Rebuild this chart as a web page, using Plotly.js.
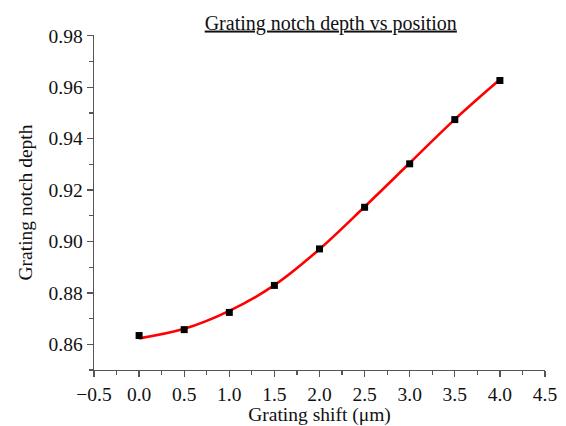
<!DOCTYPE html>
<html>
<head>
<meta charset="utf-8">
<script src="https://cdn.plot.ly/plotly-3.0.1.min.js"></script>
<style>html,body{margin:0;padding:0;background:#fff;}#chart{width:566px;height:426px;}</style>
</head>
<body>
<div id="chart"></div>
<script>
const shiftUm = [0.0, 0.5, 1.0, 1.5, 2.0, 2.5, 3.0, 3.5, 4.0];
const notchDepth = [0.8634, 0.8657, 0.8724, 0.8829, 0.8971, 0.9133, 0.9302, 0.9474, 0.9626];
const fitDepth = [0.8623, 0.8660, 0.8730, 0.8830, 0.8970, 0.9135, 0.9305, 0.9475, 0.9630];
const xTicks = [-0.5, 0.0, 0.5, 1.0, 1.5, 2.0, 2.5, 3.0, 3.5, 4.0, 4.5];
const yTicks = [0.86, 0.88, 0.90, 0.92, 0.94, 0.96, 0.98];

const font = {family: '"Liberation Serif", "Times New Roman", serif', color: '#111'};

const traces = [
  {x: shiftUm, y: fitDepth, mode: 'lines', line: {color: '#ff0000', width: 2.6, shape: 'spline', smoothing: 1}, hoverinfo: 'skip', showlegend: false},
  {x: shiftUm, y: notchDepth, mode: 'markers', marker: {symbol: 'square', color: '#000', size: 7}, showlegend: false}
];

const layout = {
  width: 566, height: 426,
  margin: {l: 94, r: 21, t: 35, b: 56},
  paper_bgcolor: '#fff', plot_bgcolor: '#fff',
  font: Object.assign({size: 19}, font),
  title: {text: '<u>Grating notch depth vs position</u>', font: Object.assign({size: 20}, font),
          x: 0.525, xref: 'paper', xanchor: 'center', y: 0.947, yref: 'container', yanchor: 'middle'},
  xaxis: {
    range: [-0.5, 4.5], tickvals: xTicks, ticktext: xTicks.map(v => (v < 0 ? '\u2212' : '') + Math.abs(v).toFixed(1)),
    showline: true, linecolor: '#555', linewidth: 1.4, ticks: 'outside', ticklen: 6, tickcolor: '#555', tickwidth: 1.3,
    minor: {dtick: 0.25, ticks: 'outside', ticklen: 3.5, tickcolor: '#555', tickwidth: 1.2},
    showgrid: false, zeroline: false, tickfont: Object.assign({size: 19.5}, font),
    title: {text: 'Grating shift (μm)', font: Object.assign({size: 19.5}, font), standoff: 11}
  },
  yaxis: {
    range: [0.85, 0.9803], tickvals: yTicks, ticktext: yTicks.map(v => v.toFixed(2)),
    showline: true, linecolor: '#555', linewidth: 1.4, ticks: 'outside', ticklen: 6, tickcolor: '#555', tickwidth: 1.3,
    minor: {dtick: 0.01, tick0: 0, ticks: 'outside', ticklen: 3.5, tickcolor: '#555', tickwidth: 1.2},
    showgrid: false, zeroline: false, tickfont: Object.assign({size: 19.5}, font),
    title: {text: 'Grating notch depth', font: Object.assign({size: 19.5}, font), standoff: 10}
  }
};

Plotly.newPlot('chart', traces, layout, {displayModeBar: false, staticPlot: true});
</script>
</body>
</html>
